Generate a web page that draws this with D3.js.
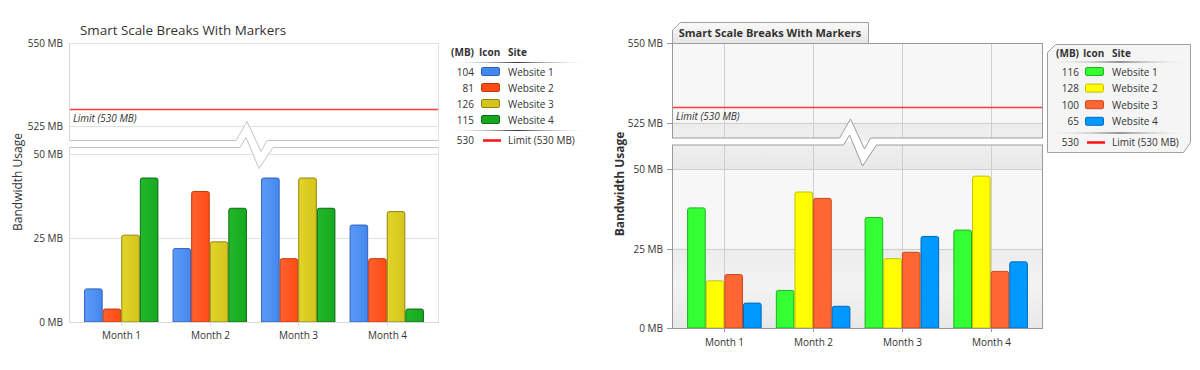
<!DOCTYPE html>
<html lang="en">
  <head>
    <meta charset="UTF-8" />
    <script src="https://d3js.org/d3.v7.min.js"></script>
    <title>Smart Scale Breaks With Markers</title>
    <style>
      body { margin: 0; background: #fff; }
      svg text { font-family: "Open Sans", "Noto Sans", sans-serif; fill: #333; }
    </style>
  </head>
  <body>
    <div id="chart"></div>
    <script>
      var months = ["Month 1", "Month 2", "Month 3", "Month 4"];
      var sites = ["Website 1", "Website 2", "Website 3", "Website 4"];
      var titleText = "Smart Scale Breaks With Markers";
      var axisTitle = "Bandwidth Usage";
      var limitValue = 530;
      var limitLabel = "Limit (530 MB)";
      var lowerTicks = [0, 25, 50];
      var upperTicks = [525, 550];

      // series values per site, one value per month
      var leftValues = [
        [10, 22, 43, 29],
        [4, 39, 19, 19],
        [26, 24, 43, 33],
        [43, 34, 34, 4]
      ];
      var rightValues = [
        [38, 12, 35, 31],
        [15, 43, 22, 48],
        [17, 41, 24, 18],
        [8, 7, 29, 21]
      ];

      var leftColors = [
        { fill: "#4488ee", light: "#5c9af5", stroke: "#2d62c0" },
        { fill: "#ff4c14", light: "#ff6030", stroke: "#c03a08" },
        { fill: "#d4c41c", light: "#e2d428", stroke: "#8f8610" },
        { fill: "#17a820", light: "#22b82a", stroke: "#0c6a12" }
      ];
      var rightColors = [
        { fill: "#33ff33", light: "#33ff33", stroke: "#22b022" },
        { fill: "#ffff00", light: "#ffff00", stroke: "#c2c200" },
        { fill: "#ff6633", light: "#ff6633", stroke: "#c8481c" },
        { fill: "#0099ff", light: "#0099ff", stroke: "#0068c0" }
      ];

      var svg = d3.select("#chart").append("svg").attr("width", 1200).attr("height", 370);
      var defs = svg.append("defs");

      function zigzag(cx, yb, yt, L, R) {
        return {
          upper: [[R, yb], [cx + 13, yb], [cx + 7, yb + 11], [cx - 7, yb - 19], [cx - 18, yb], [L, yb]],
          lower: [[L, yt], [cx - 14, yt], [cx - 8, yt - 10], [cx + 5, yt + 21], [cx + 19, yt], [R, yt]]
        };
      }

      function barPath(x, y, w, h, r) {
        r = Math.min(r, h);
        return "M" + x + "," + (y + h) + "V" + (y + r) + "Q" + x + "," + y + " " + (x + r) + "," + y +
          "H" + (x + w - r) + "Q" + (x + w) + "," + y + " " + (x + w) + "," + (y + r) + "V" + (y + h) + "Z";
      }

      function drawChart(cfg) {
        var g = svg.append("g");
        var id = cfg.id;
        var L = cfg.left, R = cfg.right;
        var yLow = d3.scaleLinear().domain([0, 50]).range([cfg.zeroY, cfg.fiftyY]);
        var yHigh = d3.scaleLinear().domain([525, 550]).range([cfg.y525, cfg.y550]);
        var z = zigzag((L + R) / 2, cfg.upperBottom, cfg.lowerTop, L, R);
        var line = d3.line();

        var upperPoly = [[L, cfg.y550], [R, cfg.y550]].concat(z.upper);
        var lowerPoly = z.lower.concat([[R, cfg.zeroY], [L, cfg.zeroY]]);

        defs.append("clipPath").attr("id", id + "-up").append("path").attr("d", line(upperPoly) + "Z");
        defs.append("clipPath").attr("id", id + "-low").append("path").attr("d", line(lowerPoly) + "Z");

        var x0 = d3.scaleBand().domain(months).range([L + 8, R - 8]);
        var groupW = x0.bandwidth() * 0.84;
        var x1 = d3.scaleBand().domain(d3.range(sites.length)).range([0, groupW]);

        // section backgrounds
        var upG = g.append("g").attr("clip-path", "url(#" + id + "-up)");
        var lowG = g.append("g").attr("clip-path", "url(#" + id + "-low)");
        upG.append("path").attr("d", line(upperPoly) + "Z").attr("fill", cfg.bg);
        lowG.append("path").attr("d", line(lowerPoly) + "Z").attr("fill", cfg.bg);

        if (cfg.striped) {
          var grad = defs.append("linearGradient").attr("id", id + "-strip")
            .attr("x1", 0).attr("y1", 0).attr("x2", 0).attr("y2", 1);
          grad.append("stop").attr("offset", "0%").attr("stop-color", "#ececec");
          grad.append("stop").attr("offset", "45%").attr("stop-color", "#f3f3f3");
          grad.append("stop").attr("offset", "100%").attr("stop-color", "#e8e8e8");
          [0, 50].forEach(function (v) {
            lowG.append("rect").attr("x", L).attr("width", R - L)
              .attr("y", yLow(v + 25)).attr("height", yLow(v) - yLow(v + 25))
              .attr("fill", "url(#" + id + "-strip)");
          });
          upG.append("rect").attr("x", L).attr("width", R - L)
            .attr("y", yHigh(525)).attr("height", yHigh(500) - yHigh(525))
            .attr("fill", "url(#" + id + "-strip)");
        }

        // gridlines
        [[upG, upperTicks, yHigh], [lowG, lowerTicks, yLow]].forEach(function (s) {
          s[0].selectAll("line.grid").data(s[1]).join("line").attr("class", "grid")
            .attr("x1", L).attr("x2", R)
            .attr("y1", function (d) { return Math.round(s[2](d)) + 0.5; })
            .attr("y2", function (d) { return Math.round(s[2](d)) + 0.5; })
            .attr("stroke", cfg.gridColor);
          if (cfg.vGrid) {
            s[0].selectAll("line.vgrid").data(months).join("line").attr("class", "vgrid")
              .attr("x1", function (d) { return Math.round(x0(d) + x0.bandwidth() / 2) + 0.5; })
              .attr("x2", function (d) { return Math.round(x0(d) + x0.bandwidth() / 2) + 0.5; })
              .attr("y1", 30).attr("y2", cfg.zeroY)
              .attr("stroke", cfg.gridColor);
          }
        });

        // bars
        cfg.colors.forEach(function (c, i) {
          var gr = defs.append("linearGradient").attr("id", id + "-bar" + i)
            .attr("x1", 0).attr("y1", 0).attr("x2", 1).attr("y2", 0);
          gr.append("stop").attr("offset", "0%").attr("stop-color", c.light);
          gr.append("stop").attr("offset", "100%").attr("stop-color", c.fill);
        });
        var barG = lowG.selectAll("g.month").data(months).join("g").attr("class", "month")
          .attr("transform", function (d) {
            return "translate(" + (x0(d) + (x0.bandwidth() - groupW) / 2) + ",0)";
          });
        barG.selectAll("path").data(function (d, mi) {
          return cfg.values.map(function (vals, si) { return { si: si, v: vals[mi] }; });
        }).join("path")
          .attr("d", function (d) {
            var y = yLow(d.v);
            return barPath(x1(d.si) + 0.5, y + 0.5, x1.bandwidth() - 1, cfg.zeroY - y - 0.5, 2);
          })
          .attr("fill", function (d) { return "url(#" + id + "-bar" + d.si + ")"; })
          .attr("stroke", function (d) { return cfg.colors[d.si].stroke; })
          .attr("stroke-width", 1);

        // limit marker
        var ly = Math.round(yHigh(limitValue)) + 0.5;
        upG.append("line").attr("x1", L).attr("x2", R).attr("y1", ly).attr("y2", ly)
          .attr("stroke", "#ff3a3a").attr("stroke-width", 1.3);
        upG.append("text").attr("x", L + 4).attr("y", ly + 12)
          .attr("font-size", 10).attr("font-style", "italic").attr("fill", "#222").text(limitLabel);

        // break band
        g.append("path").attr("d", line(z.upper.concat(z.lower.slice().reverse())) + "Z").attr("fill", "#fff");
        g.append("path").attr("d", line(z.upper)).attr("fill", "none").attr("stroke", cfg.breakColor);
        g.append("path").attr("d", line(z.lower)).attr("fill", "none").attr("stroke", cfg.breakColor);

        // section frame
        g.append("path").attr("d", "M" + (L + 0.5) + "," + cfg.y550 + "V" + cfg.upperBottom +
          "M" + (L + 0.5) + "," + cfg.lowerTop + "V" + cfg.zeroY)
          .attr("stroke", cfg.frameColor).attr("fill", "none");
        g.append("path").attr("d", "M" + (R - 0.5) + "," + cfg.y550 + "V" + cfg.upperBottom +
          "M" + (R - 0.5) + "," + cfg.lowerTop + "V" + cfg.zeroY)
          .attr("stroke", cfg.rightFrame).attr("fill", "none");
        g.append("line").attr("x1", L).attr("x2", R)
          .attr("y1", Math.round(cfg.zeroY) + 0.5).attr("y2", Math.round(cfg.zeroY) + 0.5)
          .attr("stroke", cfg.frameColor);
        if (cfg.topFrame) {
          g.append("line").attr("x1", L).attr("x2", R)
            .attr("y1", Math.round(cfg.y550) + 0.5).attr("y2", Math.round(cfg.y550) + 0.5)
            .attr("stroke", cfg.frameColor);
        }

        // y ticks
        var ticks = upperTicks.map(function (t) { return { t: t, y: yHigh(t) }; })
          .concat(lowerTicks.map(function (t) { return { t: t, y: yLow(t) }; }));
        var tg = g.selectAll("g.ytick").data(ticks).join("g").attr("class", "ytick")
          .attr("transform", function (d) { return "translate(0," + (Math.round(d.y) + 0.5) + ")"; });
        tg.append("text").attr("x", cfg.tickLabelX).attr("dy", "0.35em")
          .attr("text-anchor", "end").attr("font-size", 10).attr("fill", "#444")
          .text(function (d) { return d.t + " MB"; });
        if (cfg.tickMarks) {
          tg.append("line").attr("x1", L - 5).attr("x2", L).attr("stroke", cfg.frameColor);
        }

        // x axis
        var xg = g.selectAll("g.xtick").data(months).join("g").attr("class", "xtick")
          .attr("transform", function (d) {
            return "translate(" + (Math.round(x0(d) + x0.bandwidth() / 2) + 0.5) + "," + cfg.zeroY + ")";
          });
        xg.append("line").attr("y1", 0).attr("y2", 4).attr("stroke", cfg.frameColor);
        xg.append("text").attr("y", cfg.monthDy).attr("dy", "0.35em").attr("text-anchor", "middle")
          .attr("font-size", 10).attr("fill", "#444").text(function (d) { return d; });

        // axis title
        g.append("text").attr("transform", "translate(" + cfg.axisTitleX + "," + cfg.axisTitleY + ") rotate(-90)")
          .attr("text-anchor", "middle").attr("dy", "0.35em").attr("font-size", 12)
          .attr("font-weight", cfg.bold ? "bold" : "normal").attr("fill", "#222").text(axisTitle);

        return g;
      }

      function drawLegend(cfg) {
        var g = svg.append("g");
        var lg = defs.append("linearGradient").attr("id", cfg.id + "-sep")
          .attr("x1", 0).attr("y1", 0).attr("x2", 1).attr("y2", 0);
        lg.append("stop").attr("offset", "0%").attr("stop-color", cfg.sepFade).attr("stop-opacity", 0.2);
        lg.append("stop").attr("offset", "50%").attr("stop-color", "#333");
        lg.append("stop").attr("offset", "100%").attr("stop-color", cfg.sepFade).attr("stop-opacity", 0.2);

        if (cfg.box) {
          var b = cfg.box;
          g.append("path").attr("d", "M" + b.x + "," + (b.y + 8) + "L" + (b.x + 8) + "," + b.y +
            "H" + (b.x + b.w) + "V" + (b.y + b.h - 10) + "L" + (b.x + b.w - 7) + "," + (b.y + b.h) +
            "H" + b.x + "Z").attr("fill", "#f5f5f5").attr("stroke", "#a0a0a0");
        }
        g.append("text").attr("x", cfg.valX).attr("y", cfg.headY).attr("dy", "0.35em").attr("text-anchor", "end")
          .attr("font-size", 10).attr("font-weight", "bold").attr("fill", "#222").text("(MB)");
        g.append("text").attr("x", cfg.iconX - 2).attr("y", cfg.headY).attr("dy", "0.35em")
          .attr("font-size", 10).attr("font-weight", "bold").attr("fill", "#222").text("Icon");
        g.append("text").attr("x", cfg.siteX).attr("y", cfg.headY).attr("dy", "0.35em")
          .attr("font-size", 10).attr("font-weight", "bold").attr("fill", "#222").text("Site");
        [cfg.headLineY, cfg.sepY].forEach(function (y) {
          g.append("rect").attr("x", cfg.sepL).attr("width", cfg.sepR - cfg.sepL)
            .attr("y", y).attr("height", 1).attr("fill", "url(#" + cfg.id + "-sep)");
        });

        var rows = g.selectAll("g.row").data(sites).join("g").attr("class", "row")
          .attr("transform", function (d, i) { return "translate(0," + (cfg.rowY + i * cfg.rowStep) + ")"; });
        rows.append("text").attr("x", cfg.valX).attr("dy", "0.35em").attr("text-anchor", "end")
          .attr("font-size", 10).attr("fill", "#222")
          .text(function (d, i) { return d3.sum(cfg.values[i]); });
        rows.append("rect").attr("x", cfg.iconX + 0.5).attr("y", -4.5).attr("width", 18).attr("height", 8)
          .attr("rx", 1.5).attr("fill", function (d, i) { return cfg.colors[i].fill; })
          .attr("stroke", function (d, i) { return cfg.colors[i].stroke; });
        rows.append("text").attr("x", cfg.siteX).attr("dy", "0.35em").attr("font-size", 10)
          .attr("fill", "#222").text(function (d) { return d; });

        var lim = g.append("g").attr("transform", "translate(0," + cfg.limitY + ")");
        lim.append("text").attr("x", cfg.valX).attr("dy", "0.35em").attr("text-anchor", "end")
          .attr("font-size", 10).attr("fill", "#222").text(limitValue);
        lim.append("line").attr("x1", cfg.iconX + 2).attr("x2", cfg.iconX + 20)
          .attr("stroke", "#ff1010").attr("stroke-width", 2.5);
        lim.append("text").attr("x", cfg.siteX).attr("dy", "0.35em").attr("font-size", 10)
          .attr("fill", "#222").text(limitLabel);
      }

      // left chart
      drawChart({
        id: "a", left: 69, right: 439, zeroY: 322, fiftyY: 154, y525: 126, y550: 43,
        upperBottom: 140.5, lowerTop: 147.5, values: leftValues, colors: leftColors,
        bg: "#fff", striped: false, vGrid: false, gridColor: "#e2e2e2", breakColor: "#c4c4c4",
        frameColor: "#d8d8d8", rightFrame: "#e0e0e0", topFrame: false, tickMarks: false,
        tickLabelX: 63, monthDy: 13, axisTitleX: 18, axisTitleY: 182, bold: false
      });
      svg.append("text").attr("x", 80).attr("y", 30).attr("dy", "0.35em")
        .attr("font-size", 13.4).attr("fill", "#444").text(titleText);
      drawLegend({
        id: "la", values: leftValues, colors: leftColors, valX: 474, iconX: 481, siteX: 508,
        headY: 52, headLineY: 62, rowY: 72, rowStep: 16, sepY: 130, limitY: 140.5,
        sepL: 450, sepR: 585, sepFade: "#ffffff"
      });

      // right chart
      var tabG = svg.append("g");
      var tabGrad = defs.append("linearGradient").attr("id", "tab")
        .attr("x1", 0).attr("y1", 0).attr("x2", 0).attr("y2", 1);
      tabGrad.append("stop").attr("offset", "0%").attr("stop-color", "#fafafa");
      tabGrad.append("stop").attr("offset", "100%").attr("stop-color", "#e6e6e6");
      tabG.append("path").attr("d", "M672.5,43V30L680.5,22.5H868.5V43")
        .attr("fill", "url(#tab)").attr("stroke", "#a0a0a0");
      tabG.append("text").attr("x", 770).attr("y", 33).attr("dy", "0.35em").attr("text-anchor", "middle")
        .attr("font-size", 11).attr("font-weight", "bold").attr("fill", "#333").text(titleText);

      drawChart({
        id: "b", left: 672, right: 1043, zeroY: 328, fiftyY: 169.3, y525: 122.7, y550: 43.3,
        upperBottom: 138, lowerTop: 145, values: rightValues, colors: rightColors,
        bg: "#f7f7f7", striped: true, vGrid: true, gridColor: "#cfcfcf", breakColor: "#9a9a9a",
        frameColor: "#9a9a9a", rightFrame: "#9a9a9a", topFrame: true, tickMarks: true,
        tickLabelX: 663, monthDy: 14, axisTitleX: 620, axisTitleY: 184, bold: true
      });
      drawLegend({
        id: "lb", values: rightValues, colors: rightColors, valX: 1079, iconX: 1085, siteX: 1112,
        headY: 53, headLineY: 61.5, rowY: 72, rowStep: 16.6, sepY: 132.5, limitY: 142.5,
        sepL: 1053, sepR: 1186, sepFade: "#f5f5f5",
        box: { x: 1047.5, y: 44.5, w: 143, h: 108 }
      });
    </script>
  </body>
</html>
